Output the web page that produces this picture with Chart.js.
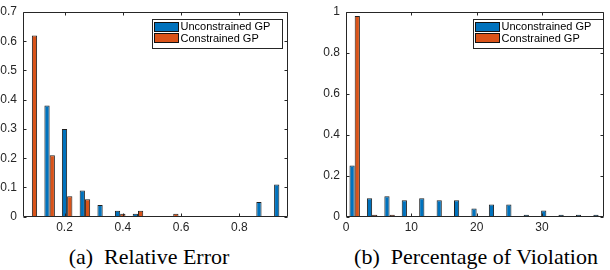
<!DOCTYPE html>
<html><head><meta charset="utf-8">
<script src="https://cdn.jsdelivr.net/npm/chart.js@4"></script>
<style>
html,body{margin:0;padding:0;background:#fff;width:610px;height:270px;overflow:hidden;}
#a{position:absolute;left:0;top:0;}
#b{position:absolute;left:300px;top:0;}
.cap{position:absolute;font-family:"Liberation Serif","Times New Roman",serif;font-size:22px;white-space:pre;color:#000;line-height:22px;top:246px;transform:translateX(-50%);}
</style></head><body>
<canvas id="a" width="300" height="240"></canvas>
<canvas id="b" width="310" height="240"></canvas>
<div class="cap" style="left:149px">(a)  Relative Error</div>
<div class="cap" style="left:476px">(b)  Percentage of Violation</div>
<script>
const seriesNames = ['Unconstrained GP', 'Constrained GP'];
const seriesColors = ['#0072BD', '#D95319'];

const errBins = [0.088, 0.149, 0.209, 0.270, 0.331, 0.391, 0.452, 0.512, 0.573, 0.634, 0.694, 0.755, 0.815, 0.876, 0.937];
const errUnconstrained = [0, 0.38, 0.30, 0.09, 0.04, 0.02, 0.01, 0, 0, 0, 0, 0, 0, 0.05, 0.11];
const errConstrained   = [0.62, 0.21, 0.07, 0.06, 0, 0.01, 0.02, 0, 0.01, 0, 0, 0, 0, 0, 0];
const errXTicks = [0.2, 0.4, 0.6, 0.8];
const errYTicks = [0, 0.1, 0.2, 0.3, 0.4, 0.5, 0.6, 0.7];

const violBins = [1.33, 4.0, 6.67, 9.33, 12.0, 14.67, 17.33, 20.0, 22.67, 25.33, 28.0, 30.67, 33.33, 36.0, 38.67];
const violUnconstrained = [0.25, 0.09, 0.10, 0.08, 0.09, 0.08, 0.08, 0.04, 0.06, 0.06, 0.01, 0.03, 0.01, 0.01, 0.01];
const violConstrained   = [0.98, 0.01, 0.01, 0, 0, 0, 0, 0, 0, 0, 0, 0, 0, 0, 0];
const violXTicks = [0, 10, 20, 30];
const violYTicks = [0, 0.2, 0.4, 0.6, 0.8, 1];

const AXIS = '#262626';
const TICKFONT = {family: '"Liberation Sans", Arial, Helvetica, sans-serif', size: 12, lineHeight: 1};

const boxPlugin = {
  id: 'matlabBox',
  afterDatasetsDraw(chart) {
    const {ctx, chartArea: a, scales: {x, y}} = chart;
    const L = Math.round(a.left) + 0.5, R = Math.round(a.right) - 0.5;
    const T = Math.round(a.top) + 0.5, B = Math.round(a.bottom) - 0.5;
    ctx.save();
    ctx.strokeStyle = AXIS; ctx.lineWidth = 1;
    ctx.beginPath();
    ctx.rect(L, T, R - L, B - T);
    const tl = 3;
    x.ticks.forEach(t => {
      const px = Math.round(x.getPixelForValue(t.value)) + 0.5;
      ctx.moveTo(px, B); ctx.lineTo(px, B - tl);
      ctx.moveTo(px, T); ctx.lineTo(px, T + tl);
    });
    y.ticks.forEach(t => {
      const py = Math.round(y.getPixelForValue(t.value)) + 0.5;
      ctx.moveTo(L, py); ctx.lineTo(L + tl, py);
      ctx.moveTo(R, py); ctx.lineTo(R - tl, py);
    });
    ctx.stroke();
    ctx.restore();
  }
};

const legendPlugin = {
  id: 'boxLegend',
  afterDraw(chart, args, o) {
    const ctx = chart.ctx, a = chart.chartArea;
    const left = Math.round(a.right - o.right - o.width), top = Math.round(a.top + o.top);
    ctx.save();
    ctx.fillStyle = '#fff';
    ctx.fillRect(left, top, o.width, o.height);
    ctx.strokeStyle = AXIS; ctx.lineWidth = 1;
    ctx.strokeRect(left + 0.5, top + 0.5, o.width, o.height);
    ctx.font = '11px "Liberation Sans", Arial, Helvetica, sans-serif';
    ctx.textBaseline = 'middle';
    ctx.textAlign = 'left';
    chart.data.datasets.forEach((ds, i) => {
      const cy = top + o.rows[i];
      ctx.fillStyle = ds.backgroundColor;
      ctx.fillRect(left + o.swX, Math.round(cy - o.swH / 2), o.swW, o.swH);
      ctx.strokeStyle = '#111';
      ctx.strokeRect(left + o.swX + 0.5, Math.round(cy - o.swH / 2) + 0.5, o.swW - 1, o.swH - 1);
      ctx.fillStyle = '#000';
      ctx.fillText(ds.label, left + o.textX, cy + 0.5);
    });
    ctx.restore();
  }
};

function makeChart(id, bins, s1, s2, xTicks, yTicks, xMin, xMax, yMax, yAxisW, pad, legendRight) {
  const mk = (vals) => bins.map((b, i) => ({x: b, y: vals[i]}));
  return new Chart(document.getElementById(id), {
    type: 'bar',
    data: {
      datasets: [
        {label: seriesNames[0], data: mk(s1), backgroundColor: seriesColors[0], borderColor: '#202020', borderWidth: 1,
         categoryPercentage: 0.6, barPercentage: 1.0},
        {label: seriesNames[1], data: mk(s2), backgroundColor: seriesColors[1], borderColor: '#202020', borderWidth: 1,
         categoryPercentage: 0.6, barPercentage: 1.0}
      ]
    },
    options: {
      responsive: false, animation: false, devicePixelRatio: 1,
      layout: {padding: pad},
      plugins: {
        legend: {display: false}, tooltip: {enabled: false},
        boxLegend: {width: 130, height: 29, right: legendRight, top: 7.3, rows: [7.5, 19.3], swX: 2, swW: 25, swH: 10, textX: 28.5}
      },
      scales: {
        x: {
          type: 'linear', min: xMin, max: xMax, offset: false,
          afterBuildTicks: s => { s.ticks = xTicks.map(v => ({value: v})); },
          afterFit: s => { s.height = 240 - 216.7; },
          ticks: {callback: v => String(v), font: TICKFONT, color: AXIS, padding: 5, maxRotation: 0, autoSkip: false},
          grid: {display: false, drawTicks: false}, border: {display: false}
        },
        y: {
          min: 0, max: yMax,
          afterBuildTicks: s => { s.ticks = yTicks.map(v => ({value: v})); },
          afterFit: s => { s.width = yAxisW; },
          ticks: {callback: v => String(v), font: TICKFONT, color: AXIS, padding: 6, autoSkip: false},
          grid: {display: false, drawTicks: false}, border: {display: false}
        }
      }
    },
    plugins: [boxPlugin, legendPlugin]
  });
}

makeChart('a', errBins, errUnconstrained, errConstrained, errXTicks, errYTicks, 0.0576, 0.9667, 0.7, 23,
  {top: 7, right: 12, left: 0, bottom: 0}, 6.3);
makeChart('b', violBins, violUnconstrained, violConstrained, violXTicks, violYTicks, 0, 39.5, 1, 46,
  {top: 7, right: 6, left: 0, bottom: 0}, 1.3);
</script>
</body></html>
